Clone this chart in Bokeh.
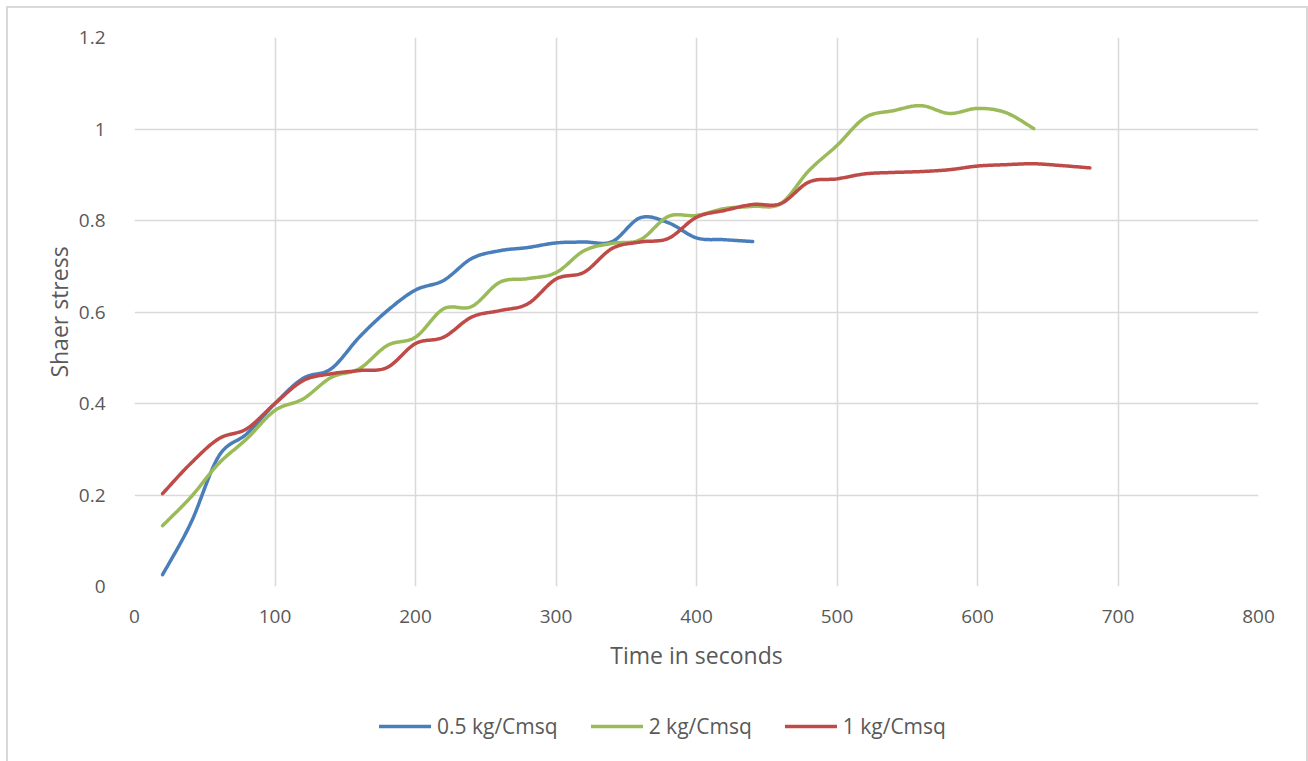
import numpy as np
from bokeh.plotting import figure
from bokeh.layouts import column
from bokeh.models import (Range1d, FixedTicker, CustomJSTickFormatter, Legend, LegendItem)
from bokeh.embed import file_html
from bokeh.resources import INLINE

# ---- data ----
time_05 = list(range(20, 441, 20))
stress_05 = [0.026, 0.138, 0.285, 0.334, 0.400, 0.455, 0.476, 0.545, 0.603, 0.648, 0.669,
             0.717, 0.734, 0.741, 0.751, 0.753, 0.754, 0.806, 0.795, 0.762, 0.758, 0.754]

time_2 = list(range(20, 641, 20))
stress_2 = [0.133, 0.195, 0.269, 0.323, 0.385, 0.410, 0.457, 0.476, 0.527, 0.545, 0.607,
            0.612, 0.665, 0.673, 0.686, 0.734, 0.750, 0.758, 0.809, 0.811, 0.826, 0.831,
            0.837, 0.909, 0.964, 1.025, 1.040, 1.051, 1.034, 1.045, 1.036, 1.001]

time_1 = list(range(20, 681, 20))
stress_1 = [0.203, 0.269, 0.323, 0.345, 0.400, 0.450, 0.465, 0.472, 0.479, 0.531, 0.545,
            0.589, 0.603, 0.618, 0.672, 0.687, 0.739, 0.753, 0.761, 0.807, 0.822, 0.835,
            0.837, 0.884, 0.891, 0.902, 0.905, 0.907, 0.911, 0.919, 0.922, 0.924, 0.920, 0.915]

series_names = ["0.5 kg/Cmsq", "2 kg/Cmsq", "1 kg/Cmsq"]
series_colors = ["#4A7EBB", "#9BBB59", "#BE4B48"]
x_ticks = [0, 100, 200, 300, 400, 500, 600, 700, 800]
y_ticks = [0, 0.2, 0.4, 0.6, 0.8, 1.0, 1.2]


def smooth(xs, ys, n=24):
    """Excel-like smoothed line: cubic Bezier through points (Catmull-Rom, tension 1/6)."""
    x = np.asarray(xs, float)
    y = np.asarray(ys, float)
    px = np.concatenate([[x[0]], x, [x[-1]]])
    py = np.concatenate([[y[0]], y, [y[-1]]])
    out_x, out_y = [], []
    t = np.linspace(0, 1, n, endpoint=False)
    for i in range(len(x) - 1):
        p0x, p0y = px[i + 1], py[i + 1]
        p3x, p3y = px[i + 2], py[i + 2]
        c1x = p0x + (px[i + 2] - px[i]) / 6
        c1y = p0y + (py[i + 2] - py[i]) / 6
        c2x = p3x - (px[i + 3] - px[i + 1]) / 6
        c2y = p3y - (py[i + 3] - py[i + 1]) / 6
        a = (1 - t) ** 3
        b = 3 * (1 - t) ** 2 * t
        c = 3 * (1 - t) * t ** 2
        d = t ** 3
        out_x.extend(a * p0x + b * c1x + c * c2x + d * p3x)
        out_y.extend(a * p0y + b * c1y + c * c2y + d * p3y)
    out_x.append(x[-1])
    out_y.append(y[-1])
    return out_x, out_y


FONT = "Open Sans"
TXT = "#595959"
W = 1298

p = figure(width=W, height=668, output_backend="svg", toolbar_location=None,
           x_range=Range1d(0, 800), y_range=Range1d(0, 1.2),
           min_border_left=126, min_border_right=48, min_border_top=29, min_border_bottom=90)
p.outline_line_color = None

for ax in (p.xaxis[0], p.yaxis[0]):
    ax.axis_line_color = None
    ax.major_tick_line_color = None
    ax.minor_tick_line_color = None
    ax.major_label_text_font = FONT
    ax.major_label_text_font_size = "19px"
    ax.major_label_text_color = TXT
    ax.axis_label_text_font = FONT
    ax.axis_label_text_font_size = "23px"
    ax.axis_label_text_color = TXT
    ax.axis_label_text_font_style = "normal"

p.xaxis.ticker = FixedTicker(ticks=x_ticks)
p.yaxis.ticker = FixedTicker(ticks=y_ticks)
p.yaxis.formatter = CustomJSTickFormatter(code="return tick.toFixed(1).replace(/\\.0$/, '');")
p.xaxis.axis_label = "Time in seconds"
p.yaxis.axis_label = "Shaer stress"
p.xaxis.major_label_standoff = 17
p.yaxis.major_label_standoff = 23
p.xaxis.axis_label_standoff = 13
p.yaxis.axis_label_standoff = 1

p.xgrid.grid_line_color = "#D9D9D9"
p.ygrid.grid_line_color = "#D9D9D9"
p.xgrid.grid_line_width = 1.5
p.ygrid.grid_line_width = 1.5

series = [(time_05, stress_05), (time_2, stress_2), (time_1, stress_1)]
for (xs, ys), col in zip(series, series_colors):
    sx, sy = smooth(xs, ys)
    p.line(sx, sy, line_color=col, line_width=3.5, line_cap="round", line_join="round")

# legend strip below the chart (series lines fall outside this strip's range, so only the legend shows)
lg = figure(width=W, height=85, output_backend="svg", toolbar_location=None,
            x_range=Range1d(-2, -1), y_range=Range1d(-2, -1), min_border=0)
lg.axis.visible = False
lg.grid.visible = False
lg.outline_line_color = None
leg_renderers = [lg.line(xs, ys, line_color=c, line_width=3.5, line_cap="round")
                 for (xs, ys), c in zip(series, series_colors)]
legend = Legend(items=[LegendItem(label=n, renderers=[r]) for n, r in zip(series_names, leg_renderers)],
                orientation="horizontal", location=(245, 21))
legend.label_text_font = FONT
legend.label_text_font_size = "21px"
legend.label_text_color = TXT
legend.glyph_width = 52
legend.label_standoff = 6
legend.spacing = 33
legend.padding = 0
legend.margin = 0
legend.border_line_color = None
legend.background_fill_alpha = 0
lg.add_layout(legend, "center")

layout = column(p, lg, spacing=0)
layout.styles = {"margin-left": "6px", "margin-top": "6px",
                 "border-left": "2px solid #D9D9D9", "border-top": "2px solid #D9D9D9",
                 "border-right": "2px solid #D9D9D9"}

open("out.html", "w").write(file_html(layout, INLINE))
